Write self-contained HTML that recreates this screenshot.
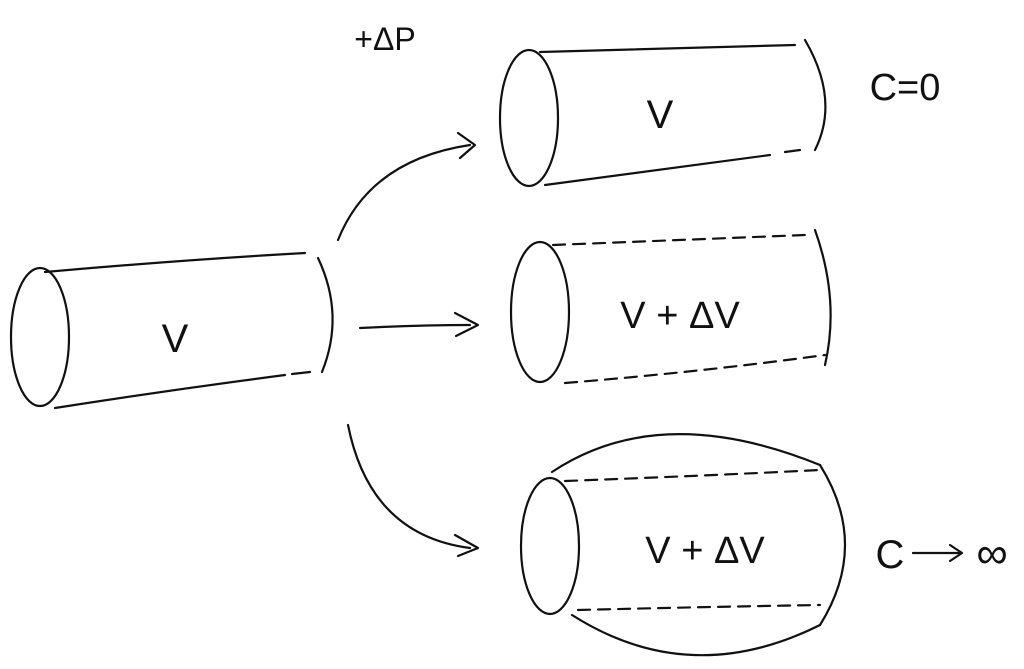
<!DOCTYPE html>
<html><head><meta charset="utf-8"><style>
html,body{margin:0;padding:0;background:#fff;width:1024px;height:669px;overflow:hidden}
svg{display:block}
text{font-family:"Liberation Sans","DejaVu Sans",sans-serif;fill:#111}
</style></head><body>
<svg width="1024" height="669" viewBox="0 0 1024 669" fill="none" stroke="#111" stroke-width="2.2" stroke-linecap="round" stroke-linejoin="round">
<ellipse cx="40" cy="337" rx="29" ry="69"/>
<path d="M45 272 Q180 260 305 253"/>
<path d="M55 408 Q170 390 285 375"/>
<path d="M292 374 L310 372"/>
<path d="M318 258 Q345 315 322 372"/>
<text x="175" y="352" font-size="40" stroke="none" text-anchor="middle">V</text>
<ellipse cx="529" cy="118" rx="29" ry="68"/>
<path d="M540 52 Q670 48 795 45"/>
<path d="M545 185 Q660 170 770 155"/>
<path d="M785 152 L800 150"/>
<path d="M805 40 Q840 100 815 150"/>
<text x="660" y="128" font-size="40" stroke="none" text-anchor="middle">V</text>
<ellipse cx="540" cy="312" rx="29" ry="70"/>
<path d="M553 245 Q680 240 805 235" stroke-dasharray="12 8"/>
<path d="M815 230 Q840 300 825 365"/>
<path d="M565 383 Q700 372 825 355" stroke-dasharray="12 8"/>
<text x="680" y="328" font-size="38" stroke="none" text-anchor="middle">V + ΔV</text>
<ellipse cx="550" cy="546" rx="29" ry="68"/>
<path d="M552 472 Q660 400 820 465"/>
<path d="M820 465 Q870 545 820 625"/>
<path d="M572 615 Q690 690 820 625"/>
<path d="M565 481 Q700 476 820 470" stroke-dasharray="12 8"/>
<path d="M578 610 Q700 607 820 605" stroke-dasharray="12 8"/>
<text x="705" y="563" font-size="38" stroke="none" text-anchor="middle">V + ΔV</text>
<path d="M338 240 Q370 160 470 145"/>
<path d="M458 133 L475 145 L460 158"/>
<path d="M360 328 Q420 325 470 325"/>
<path d="M455 313 L478 325 L456 336"/>
<path d="M348 425 Q370 535 470 548"/>
<path d="M455 535 L478 548 L458 556"/>
<text x="385" y="50" font-size="32" stroke="none" text-anchor="middle">+ΔP</text>
<text x="905" y="100" font-size="38" stroke="none" text-anchor="middle">C=0</text>
<text x="890" y="568" font-size="40" stroke="none" text-anchor="middle">C</text>
<path d="M913 553 L960 553"/>
<path d="M950 545 L962 553 L950 561"/>
<text x="992" y="568" font-size="44" stroke="none" text-anchor="middle">∞</text>
</svg>
</body></html>
